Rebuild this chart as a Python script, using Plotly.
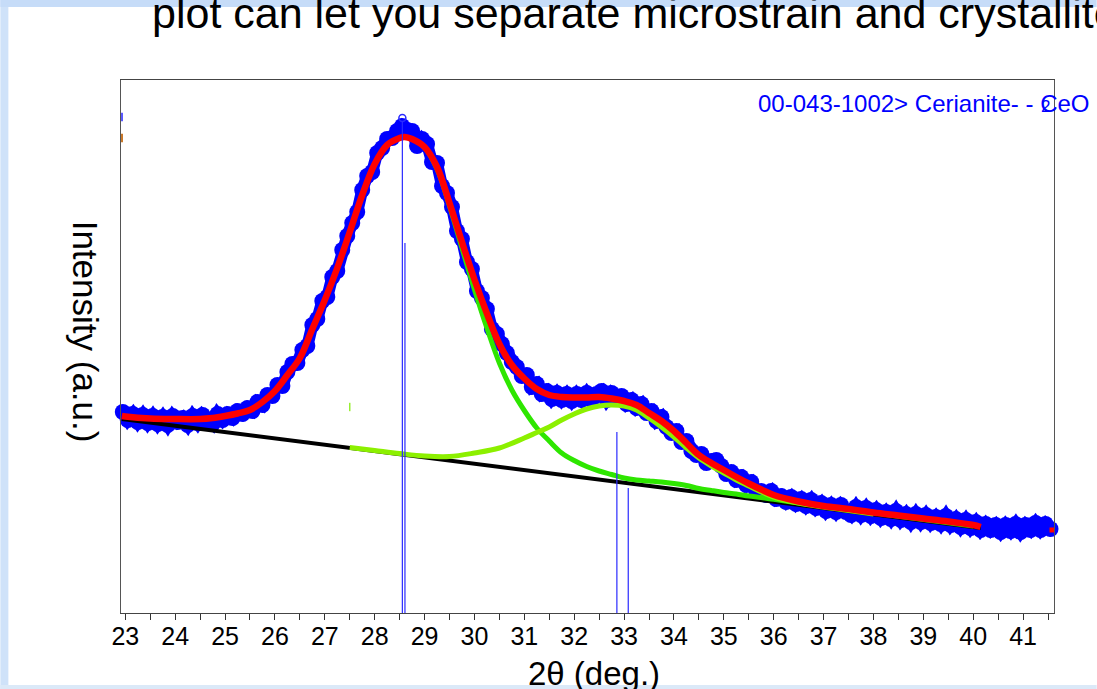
import plotly.graph_objects as go

# ---------------- data ----------------
scan_2theta = [
    22.95, 23.05, 23.15, 23.25, 23.35, 23.45, 23.55, 23.65, 23.75, 23.85, 23.95,
    24.05, 24.15, 24.25, 24.35, 24.45, 24.55, 24.65, 24.75, 24.85, 24.95,
    25.05, 25.15, 25.25, 25.35, 25.45, 25.55, 25.65, 25.75, 25.85, 25.95,
    26.05, 26.15, 26.25, 26.35, 26.45, 26.55, 26.65, 26.75, 26.85, 26.95,
    27.05, 27.15, 27.25, 27.35, 27.45, 27.55, 27.65, 27.75, 27.85, 27.95,
    28.05, 28.15, 28.25, 28.35, 28.45, 28.55, 28.65, 28.75, 28.85, 28.95,
    29.05, 29.15, 29.25, 29.35, 29.45, 29.55, 29.65, 29.75, 29.85, 29.95,
    30.05, 30.15, 30.25, 30.35, 30.45, 30.55, 30.65, 30.75, 30.85, 30.95,
    31.05, 31.15, 31.25, 31.35, 31.45, 31.55, 31.65, 31.75, 31.85, 31.95,
    32.05, 32.15, 32.25, 32.35, 32.45, 32.55, 32.65, 32.75, 32.85, 32.95,
    33.05, 33.15, 33.25, 33.35, 33.45, 33.55, 33.65, 33.75, 33.85, 33.95,
    34.05, 34.15, 34.25, 34.35, 34.45, 34.55, 34.65, 34.75, 34.85, 34.95,
    35.05, 35.15, 35.25, 35.35, 35.45, 35.55, 35.65, 35.75, 35.85, 35.95,
    36.05, 36.15, 36.25, 36.35, 36.45, 36.55, 36.65, 36.75, 36.85, 36.95,
    37.05, 37.15, 37.25, 37.35, 37.45, 37.55, 37.65, 37.75, 37.85, 37.95,
    38.05, 38.15, 38.25, 38.35, 38.45, 38.55, 38.65, 38.75, 38.85, 38.95,
    39.05, 39.15, 39.25, 39.35, 39.45, 39.55, 39.65, 39.75, 39.85, 39.95,
    40.05, 40.15, 40.25, 40.35, 40.45, 40.55, 40.65, 40.75, 40.85, 40.95,
    41.05, 41.15, 41.25, 41.35, 41.45, 41.55, 41.65,
]
scan_intensity = [
    200, 192, 198, 190, 197, 189, 196, 188, 195, 187, 196,
    190, 194, 187, 196, 189, 197, 190, 188, 198, 192,
    198, 194, 201, 198, 204, 201, 210, 207, 217, 216,
    227, 226, 240, 248, 249, 262, 266, 287, 293, 311,
    315, 335, 341, 362, 376, 389, 400, 422, 436, 440,
    459, 464, 473, 474, 481, 486, 482, 481, 466, 473,
    468, 450, 449, 426, 419, 405, 381, 373, 350, 343,
    321, 314, 303, 283, 278, 268, 259, 250, 245, 236,
    237, 225, 228, 218, 221, 213, 219, 212, 218, 211,
    218, 212, 219, 212, 218, 221, 212, 219, 215, 216,
    208, 212, 204, 208, 199, 201, 191, 195, 185, 179,
    181, 170, 171, 161, 157, 158, 149, 151, 152, 146,
    138, 140, 132, 135, 127, 130, 121, 121, 117, 121,
    113, 116, 110, 115, 108, 113, 106, 112, 104, 109,
    101, 107, 100, 107, 100, 97, 105, 97, 104, 96,
    102, 94, 100, 93, 101, 92, 98, 90, 98, 90,
    97, 89, 95, 88, 96, 87, 93, 85, 92, 84,
    90, 82, 88, 82, 87, 80, 87, 81, 88, 80,
    87, 82, 89, 82, 88, 83, 87,
]

fit_2theta = [22.93, 23.0, 23.5, 24.0, 24.5, 24.75, 25.0, 25.25, 25.5, 25.75,
              26.0, 26.25, 26.5, 26.75, 27.0, 27.25, 27.5, 27.75, 28.0, 28.25,
              28.5, 28.6, 28.75, 29.0, 29.25, 29.5, 29.75, 30.0, 30.25, 30.5,
              30.75, 31.0, 31.25, 31.5, 31.75, 32.0, 32.25, 32.5, 32.75, 33.0,
              33.25, 33.5, 33.75, 34.0, 34.25, 34.5, 34.75, 35.0, 35.25, 35.5,
              35.75, 36.0, 36.5, 37.0, 37.5, 38.0, 38.5, 39.0, 39.5, 40.0, 40.15]
fit_total = [196, 195.5, 193.5, 193, 193, 194, 196, 198.5, 202, 210,
             221, 237, 254, 283, 312, 344, 380, 417, 448, 467,
             474, 475, 473, 465, 445, 409, 370, 332.5, 298.5, 268,
             247, 233.5, 223, 217, 215, 214.5, 214.5, 215, 213.5, 211,
             207, 199, 191, 181, 169, 157, 149, 142, 135, 128.5,
             122.5, 117, 110.5, 106, 103, 99.5, 96.5, 93.5, 90.5, 87, 85]

peak1_2theta = [28.6, 28.75, 29.0, 29.25, 29.5, 29.75, 30.0, 30.25, 30.5, 30.75,
                31.0, 31.25, 31.5, 31.75, 32.0, 32.25, 32.5, 32.75, 33.0, 33.25,
                33.5, 33.75, 34.0, 34.25, 34.5, 34.75, 35.0, 35.25, 35.5, 35.75,
                36.0, 36.5, 37.0, 37.5, 38.0, 38.5, 39.0, 39.5, 40.0]
peak1_plus_bg = [475, 473, 464.5, 443, 406, 364, 322.5, 284, 249, 222,
                 201.5, 184, 171, 159, 151.5, 145.5, 141, 137.5, 134, 132,
                 131, 130, 128.5, 126.5, 123.5, 121.5, 119.6, 118, 116, 114.5,
                 112.6, 109.1, 105.7, 102.4, 99.1, 95.7, 92.5, 89.2, 85.9]

peak2_2theta = [27.5, 28.0, 28.5, 29.0, 29.5, 30.0, 30.5, 31.0, 31.25, 31.5,
                31.75, 32.0, 32.25, 32.5, 32.75, 33.0, 33.25, 33.5, 33.75, 34.0,
                34.25, 34.5, 34.75, 35.0, 35.25, 35.5, 35.75, 36.0, 36.5, 37.0,
                37.5, 38.0]
peak2_plus_bg = [164.5, 161.5, 158.5, 156, 155.5, 159, 164, 174, 179.5, 185,
                 192, 198, 203, 206, 207, 206, 202, 194, 185, 175,
                 164, 154, 146, 139, 132, 126, 120, 115, 109, 105,
                 101.5, 98]

bg_2theta = [22.93, 40.15]
bg_intensity = [193, 84]

stick_2theta = [28.555, 28.607, 32.856, 33.084]
stick_top = [491, 369, 180, 124]

tick_values = list(range(23, 42))
tick_labels = [str(v) for v in tick_values]

# ---------------- figure ----------------
W, H = 1097, 689
L, R, T, B = 120.7, 1054.3, 80, 613
PW, PH = R - L, B - T


def px(x):
    return (x - L) / PW


def py(y):
    return (B - y) / PH


Y_MIN, Y_MAX = -1, 532
X_MIN, X_MAX = 22.914, 41.62

fig = go.Figure()

fig.add_trace(go.Scatter(
    x=scan_2theta, y=scan_intensity, mode="lines+markers",
    line=dict(color="#0000ff", width=12),
    marker=dict(color="#0000ff", size=16, line=dict(width=0)),
    cliponaxis=False, showlegend=False, hoverinfo="skip"))

fig.add_trace(go.Scatter(
    x=bg_2theta, y=bg_intensity, mode="lines",
    line=dict(color="#000000", width=4), showlegend=False, hoverinfo="skip"))

fig.add_trace(go.Scatter(
    x=peak1_2theta, y=peak1_plus_bg, mode="lines",
    line=dict(color="#2ee600", width=5, shape="spline"),
    showlegend=False, hoverinfo="skip"))

fig.add_trace(go.Scatter(
    x=peak2_2theta, y=peak2_plus_bg, mode="lines",
    line=dict(color="#8cf000", width=5, shape="spline"),
    showlegend=False, hoverinfo="skip"))

fig.add_trace(go.Scatter(
    x=fit_2theta, y=fit_total, mode="lines",
    line=dict(color="#ff0000", width=6.5, shape="spline"),
    showlegend=False, hoverinfo="skip"))

# reference stick pattern
sx, sy = [], []
for xs, ys in zip(stick_2theta, stick_top):
    sx += [xs, xs, None]
    sy += [Y_MIN, ys, None]
fig.add_trace(go.Scatter(
    x=sx, y=sy, mode="lines", line=dict(color="#2a2aff", width=1.2),
    showlegend=False, hoverinfo="skip"))
fig.add_trace(go.Scatter(
    x=[stick_2theta[0]], y=[stick_top[0] + 3], mode="markers",
    marker=dict(symbol="circle-open", size=7, color="#2a2aff", line=dict(width=1.5)),
    cliponaxis=False, showlegend=False, hoverinfo="skip"))

# tiny marks seen in the reference
fig.add_trace(go.Scatter(
    x=[X_MIN + 0.02, X_MIN + 0.02], y=[495, 474], mode="markers",
    marker=dict(symbol="line-ns", size=6, line=dict(width=2, color=["#5a5aff", "#c8782a"])),
    cliponaxis=False, showlegend=False, hoverinfo="skip"))
fig.add_trace(go.Scatter(
    x=[27.5], y=[205], mode="markers",
    marker=dict(symbol="line-ns", size=6, line=dict(width=1.5, color="#99ee33")),
    showlegend=False, hoverinfo="skip"))
fig.add_trace(go.Scatter(
    x=[41.58], y=[82], mode="markers",
    marker=dict(symbol="square", size=5, color="#ff0000"),
    cliponaxis=False, showlegend=False, hoverinfo="skip"))

fig.update_layout(
    width=W, height=H,
    margin=dict(l=L, r=W - R, t=T, b=H - B, pad=0),
    paper_bgcolor="white", plot_bgcolor="white",
    font=dict(family="Liberation Sans, Arial, sans-serif", color="black"),
    xaxis=dict(
        range=[X_MIN, X_MAX], tickmode="array", tickvals=tick_values, ticktext=tick_labels,
        ticks="outside", ticklen=6, tickwidth=1, tickcolor="#333",
        minor=dict(dtick=0.5, tick0=23, ticks="outside", ticklen=6, tickcolor="#333", showgrid=False),
        tickfont=dict(size=25, color="black"), ticklabelstandoff=-5,
        showline=True, linecolor="#444", linewidth=1, mirror=True,
        showgrid=False, zeroline=False),
    yaxis=dict(
        range=[Y_MIN, Y_MAX], showticklabels=False, ticks="",
        showline=True, linecolor="#555", linewidth=1, mirror=True,
        showgrid=False, zeroline=False),
    shapes=[
        dict(type="rect", xref="paper", yref="paper", layer="below",
             x0=px(0), x1=px(8), y0=py(689), y1=py(0),
             fillcolor="#cfe2f9", line=dict(width=0)),
        dict(type="rect", xref="paper", yref="paper", layer="below",
             x0=px(0), x1=px(W), y0=py(7), y1=py(0),
             fillcolor="#c6dcf8", line=dict(width=0)),
        dict(type="rect", xref="paper", yref="paper", layer="below",
             x0=px(0), x1=px(W), y0=py(689), y1=py(685),
             fillcolor="#dbe9f8", line=dict(width=0)),
    ],
    annotations=[
        dict(text="plot can let you separate microstrain and crystallite size",
             xref="paper", yref="paper", x=px(150), y=py(13),
             xanchor="left", yanchor="middle", showarrow=False,
             font=dict(size=43, color="black")),
        dict(text="Intensity (a.u.)", xref="paper", yref="paper",
             x=px(86), y=py(332), textangle=90, showarrow=False,
             xanchor="center", yanchor="middle", font=dict(size=35, color="black")),
        dict(text="2θ (deg.)", xref="paper", yref="paper",
             x=px(594), y=py(673), showarrow=False,
             xanchor="center", yanchor="middle", font=dict(size=33, color="black")),
        dict(text="00-043-1002> Cerianite- - CeO", xref="paper", yref="paper",
             x=px(756), y=py(103.5), xanchor="left", yanchor="middle", showarrow=False,
             font=dict(size=24, color="#0000ff")),
        dict(text="2", xref="paper", yref="paper",
             x=px(1046), y=py(106), xanchor="center", yanchor="middle", showarrow=False,
             font=dict(size=17, color="#0000ff")),
    ],
)

fig.write_html("out.html")
